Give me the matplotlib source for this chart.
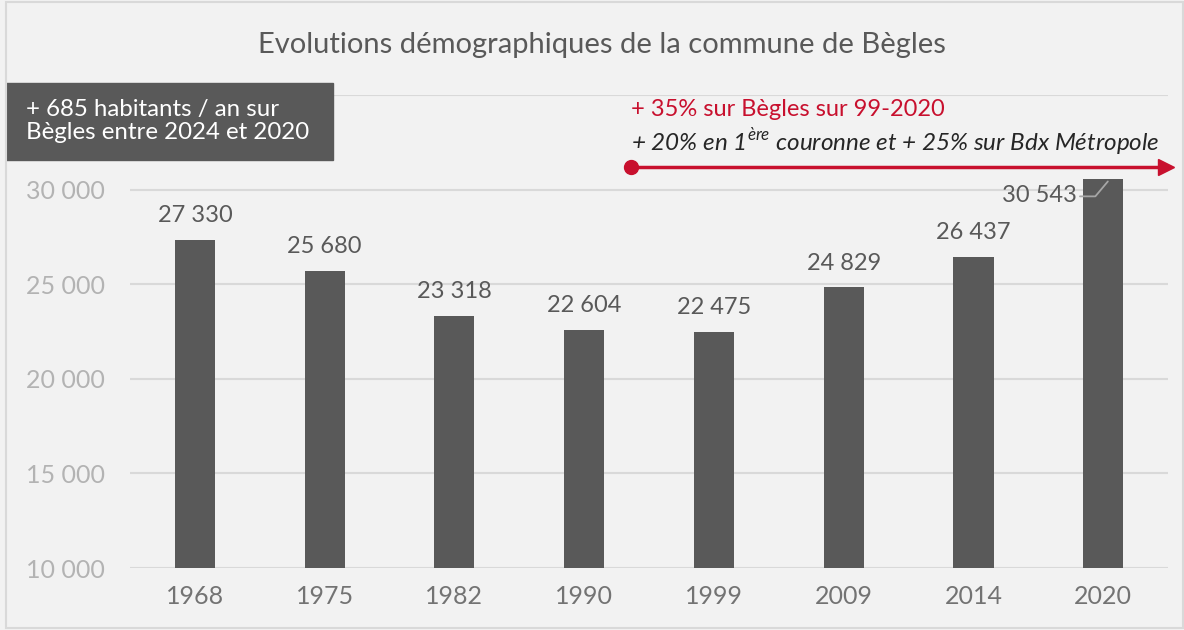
"""
Evolutions demographiques de Begles
"""

import matplotlib.pyplot as plt
from matplotlib.patches import Rectangle

years = ["1968", "1975", "1982", "1990", "1999", "2009", "2014", "2020"]
population = [27330, 25680, 23318, 22604, 22475, 24829, 26437, 30543]
y_ticks = [10000, 15000, 20000, 25000, 30000]
y_tick_labels = ["10 000", "15 000", "20 000", "25 000", "30 000"]

BG = "#f2f2f2"
BAR = "#595959"
RED = "#c8102e"
FONT = ["Lato", "DejaVu Sans"]


def fmt(v):
    return f"{v:,}".replace(",", " ")


def main():
    plt.rcParams["font.family"] = FONT
    fig = plt.figure(figsize=(11.84, 6.30), dpi=100, facecolor=BG)
    ax = fig.add_axes([0.1098, 0.0984, 0.8767, 0.7508], facecolor=BG)

    x = range(len(years))
    ax.bar(x, population, width=0.31, color=BAR, zorder=3)
    ax.set_xlim(-0.5, len(years) - 0.5)
    ax.set_ylim(10000, 35000)
    ax.set_yticks(y_ticks + [35000])
    ax.set_yticklabels(y_tick_labels + [""])
    ax.set_xticks(list(x))
    ax.set_xticklabels(years)
    ax.grid(axis="y", color="#d9d9d9", linewidth=1.5, zorder=0)
    for s in ax.spines.values():
        s.set_visible(False)
    ax.tick_params(axis="y", length=0, pad=18, labelsize=18,
                   labelcolor="#b3b3b3")
    ax.tick_params(axis="x", length=0, pad=12, labelsize=18,
                   labelcolor="#737373")

    # value labels
    for i, v in enumerate(population[:-1]):
        ax.annotate(fmt(v), (i, v), xytext=(0, 10), textcoords="offset points",
                    ha="center", va="bottom", fontsize=17, color=BAR)
    last = len(population) - 1
    ax.annotate(fmt(population[last]), (last, population[last]),
                xytext=(-46, -12), textcoords="offset points",
                ha="center", va="center", fontsize=17, color=BAR)
    ax.annotate("", xy=(last + 0.05, population[last]),
                xytext=(last - 0.2, population[last] - 900),
                arrowprops=dict(arrowstyle="-", color="#a6a6a6", lw=1.3,
                                connectionstyle="angle,angleA=0,angleB=50,rad=0"))

    # title
    fig.text(0.508, 0.928, "Evolutions démographiques de la commune de Bègles",
             ha="center", va="center", fontsize=21, color=BAR)

    # left box
    fig.patches.append(Rectangle((0.005, 0.746), 0.276, 0.122,
                                 transform=fig.transFigure, color=BAR))
    fig.text(0.022, 0.808, "+ 685 habitants / an sur\nBègles entre 2024 et 2020",
             ha="left", va="center", fontsize=17.3, color="white",
             linespacing=1.15)

    # red arrow annotation
    fig.text(0.533, 0.826, "+ 35% sur Bègles sur 99-2020", ha="left",
             va="center", fontsize=17, color=RED)
    fig.text(0.533, 0.774,
             "+ 20% en 1$^{\\mathregular{ère}}$ couronne et + 25% sur Bdx Métropole",
             ha="left", va="center", fontsize=17.5, color="#262626",
             style="italic")
    fig.add_artist(plt.Line2D([0.533, 0.985], [0.735, 0.735],
                              transform=fig.transFigure, color=RED, lw=2.5))
    fig.add_artist(plt.Line2D([0.533], [0.735], transform=fig.transFigure,
                              marker="o", markersize=10, color=RED))
    fig.add_artist(plt.Line2D([0.985], [0.735], transform=fig.transFigure,
                              marker=">", markersize=12, color=RED))

    # frame
    fig.patches.append(Rectangle((0.005, 0.003), 0.994, 0.994,
                                 transform=fig.transFigure, fill=False,
                                 edgecolor="#d9d9d9", lw=1.5))

    fig.savefig("out.png", dpi=100, facecolor=BG)


if __name__ == "__main__":
    main()
